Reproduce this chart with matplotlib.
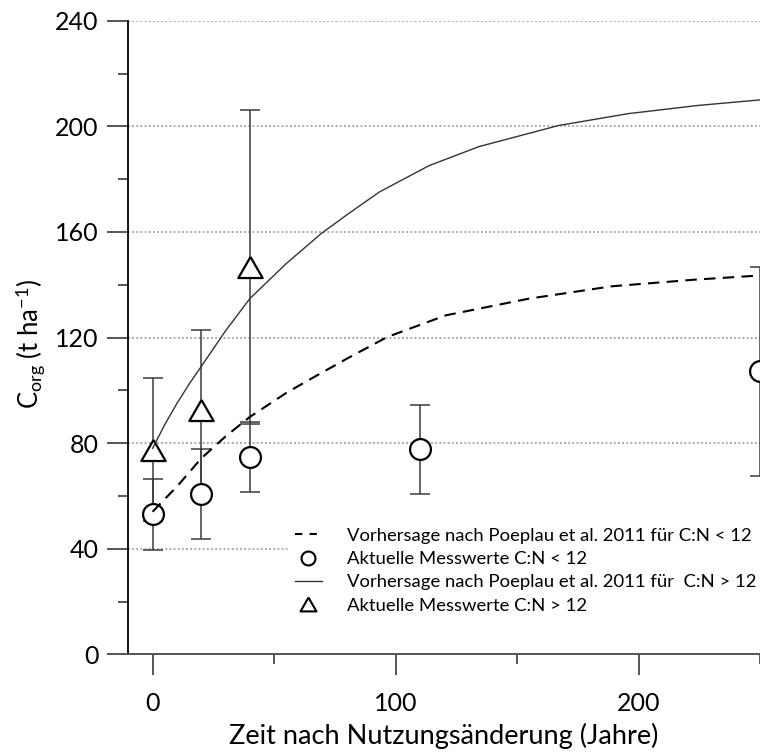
import matplotlib
matplotlib.use("Agg")
import matplotlib.pyplot as plt
from matplotlib.lines import Line2D
from matplotlib.ticker import MultipleLocator

plt.rcParams['font.family'] = ['Lato', 'DejaVu Sans']
plt.rcParams['mathtext.fontset'] = 'custom'
plt.rcParams['mathtext.rm'] = 'Lato'
plt.rcParams['mathtext.it'] = 'Lato:italic'
plt.rcParams['mathtext.bf'] = 'Lato:bold'

# ---- data ----
pred_low_x = [0, 5, 10, 20, 30, 40, 55, 66.6, 80, 96.6, 120.7, 154.8, 189, 223, 250]
pred_low_y = [54, 58.8, 63.5, 74.2, 82.5, 89.9, 99, 105.1, 112, 120.2, 128.4, 134.7, 139.4, 141.9, 143.5]

pred_high_x = [0, 5, 10, 15, 20, 30, 40, 55, 69.3, 80, 93.3, 113.8, 134.3, 167.1, 195.8, 224.5, 250]
pred_high_y = [78, 87, 95, 102.3, 109, 122.5, 134.7, 148, 159.3, 166.5, 175.1, 185.1, 192.3, 200.3, 204.8, 207.9, 210]

circ_x = [0, 20, 40, 110, 250]
circ_y = [53, 60.6, 74.8, 77.7, 107.2]
circ_err = [13.5, 17, 13.2, 16.9, 39.6]

tri_x = [0, 20, 40]
tri_y = [77.5, 92.5, 146.7]
tri_err = [27, 30.2, 59.3]

labels = ["Vorhersage nach Poeplau et al. 2011 für C:N < 12",
          "Aktuelle Messwerte C:N < 12",
          "Vorhersage nach Poeplau et al. 2011 für  C:N > 12",
          "Aktuelle Messwerte C:N > 12"]

x_ticks = [0, 100, 200]
y_ticks = [0, 40, 80, 120, 160, 200, 240]

# ---- figure ----
W, H = 760, 755
fig = plt.figure(figsize=(W / 100, H / 100), dpi=100)
ax = fig.add_axes([128.3 / W, (H - 654.3) / H, (W - 128.3) / W, (654.3 - 20.7) / H])
ax.set_xlim(-10, 250)
ax.set_ylim(0, 240)

tri_marker = [(0, 1), (-1.1547, -1), (1.1547, -1), (0, 1)]

# grid
ax.set_axisbelow(True)
ax.yaxis.grid(True, which='major', color='#a0a0a0', linestyle=(0, (1, 1.3)), linewidth=1.3)
ax.xaxis.grid(False)

ebkw = dict(fmt='none', ecolor='#3a3a3a', elinewidth=1.1, capsize=7.5, capthick=1.1, zorder=2, clip_on=False)
ax.errorbar(circ_x, circ_y, yerr=circ_err, **ebkw)
ax.errorbar(tri_x, tri_y, yerr=tri_err, **ebkw)

ax.plot(circ_x, circ_y, linestyle='none', marker='o', markersize=15, markerfacecolor='white',
        markeredgecolor='black', markeredgewidth=1.6, zorder=3, clip_on=False)
ax.plot(tri_x, tri_y, linestyle='none', marker=tri_marker, markersize=17.5, markerfacecolor='white',
        markeredgecolor='black', markeredgewidth=1.6, zorder=3, clip_on=False)

ax.plot(pred_low_x, pred_low_y, color='black', linewidth=1.5, dashes=(5.5, 3.5), zorder=4)
ax.plot(pred_high_x, pred_high_y, color='#333333', linewidth=1.0, zorder=4)

# spines
for s in ['top', 'right']:
    ax.spines[s].set_visible(False)
ax.spines['left'].set_color('black')
ax.spines['left'].set_linewidth(1.3)
ax.spines['bottom'].set_color('#555555')
ax.spines['bottom'].set_linewidth(1.4)

ax.set_xticks(x_ticks)
ax.set_yticks(y_ticks)
ax.xaxis.set_minor_locator(MultipleLocator(50))
ax.yaxis.set_minor_locator(MultipleLocator(20))
ax.tick_params(axis='both', which='major', direction='out', length=15, width=1.4, color='#555555',
               labelsize=18, labelcolor='black')
ax.tick_params(axis='both', which='minor', direction='out', length=7.5, width=1.4, color='#555555')
ax.tick_params(axis='x', which='major', pad=12.5)
ax.tick_params(axis='y', which='major', pad=6.5)

ax.set_xlabel("Zeit nach Nutzungsänderung (Jahre)", fontsize=19.5)
ax.xaxis.set_label_coords(0.5, -0.108)
ax.set_ylabel(r"C$_{\mathrm{org}}$ (t ha$^{\mathrm{-1}}$)", fontsize=18.5)
ax.yaxis.set_label_coords(-0.129, 0.49)

handles = [
    Line2D([], [], color='black', linewidth=1.5, dashes=(3.5, 3.5)),
    Line2D([], [], linestyle='none', marker='o', markersize=10, markerfacecolor='white',
           markeredgecolor='black', markeredgewidth=1.5),
    Line2D([], [], color='#333333', linewidth=1.0),
    Line2D([], [], linestyle='none', marker=tri_marker, markersize=11.5, markerfacecolor='white',
           markeredgecolor='black', markeredgewidth=1.5),
]
leg = ax.legend(handles, labels, loc='upper left', bbox_to_anchor=(290 / W, 1 - 523 / H),
                bbox_transform=fig.transFigure, fontsize=13.3, frameon=True, fancybox=False,
                edgecolor='none', facecolor='white', framealpha=1, borderpad=0.25,
                handlelength=1.5, handletextpad=1.35, labelspacing=0.4, borderaxespad=0)
leg.set_zorder(5)

fig.savefig("out.png", dpi=100)
